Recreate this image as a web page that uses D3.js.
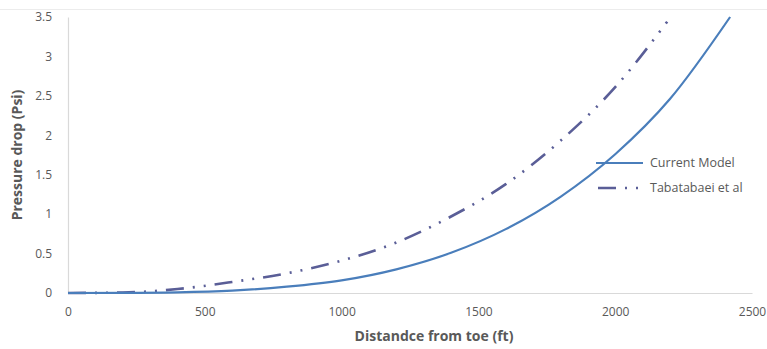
<!DOCTYPE html>
<html>
<head>
  <meta charset=utf-8 />
  <title>Pressure drop vs distance from toe</title>
  <style>
    body { margin:0; background:#fff; }
    text { font-family:"Open Sans", "Liberation Sans", sans-serif; fill:#595959; }
    .tick text { font-size:12px; }
    .axis-title { font-size:14px; font-weight:bold; }
    .legend text { font-size:12.5px; }
  </style>
</head>
<body>
  <div id="container"></div>
  <script src="https://d3js.org/d3.v7.min.js"></script>
  <script>

// values (ft, psi)
var currentDist = [0, 200, 400, 600, 800, 1000, 1200, 1400, 1600, 1800, 2000, 2200, 2420];
var currentDrop = [0, 0.001, 0.008, 0.03, 0.08, 0.16, 0.30, 0.51, 0.81, 1.22, 1.76, 2.46, 3.5];

var tabDist = [0, 200, 400, 600, 800, 1000, 1200, 1400, 1600, 1800, 2000, 2190];
var tabDrop = [0, 0.006, 0.05, 0.14, 0.25, 0.41, 0.64, 0.97, 1.38, 1.93, 2.61, 3.44];

var xTicks = [0, 500, 1000, 1500, 2000, 2500];
var yTicks = [0, 0.5, 1, 1.5, 2, 2.5, 3, 3.5];

var seriesNames = ["Current Model", "Tabatabaei et al"];

var w = 767, h = 349;
var svg = d3.select("#container").append("svg")
  .attr("width", w)
  .attr("height", h);

var x = d3.scaleLinear().domain([0, 2500]).range([68, 752]);
var y = d3.scaleLinear().domain([0, 3.5]).range([293, 17]);

// faint frame line at top
svg.append("line")
  .attr("x1", 0).attr("x2", w).attr("y1", 9.5).attr("y2", 9.5)
  .attr("stroke", "#ececec");

// axes
var xAxis = svg.append("g")
  .attr("transform", "translate(0," + y(0) + ")")
  .call(d3.axisBottom(x).tickValues(xTicks).tickSize(0).tickPadding(14).tickFormat(d3.format("d")));
xAxis.select(".domain").attr("stroke", "#d9d9d9").attr("stroke-width", 1.2);

var yAxis = svg.append("g")
  .attr("transform", "translate(" + x(0) + ",0)")
  .call(d3.axisLeft(y).tickValues(yTicks).tickSize(0).tickPadding(16).tickFormat(function(d){ return d; }));
yAxis.select(".domain").attr("stroke", "#d9d9d9").attr("stroke-width", 1.2);

svg.append("text")
  .attr("class", "axis-title")
  .attr("x", 434).attr("y", 341)
  .attr("text-anchor", "middle")
  .text("Distandce from toe (ft)");

svg.append("text")
  .attr("class", "axis-title")
  .attr("transform", "translate(22,155) rotate(-90)")
  .attr("text-anchor", "middle")
  .text("Pressure drop (Psi)");

var line = d3.line()
  .x(function(d){ return x(d[0]); })
  .y(function(d){ return y(d[1]); })
  .curve(d3.curveMonotoneX);

var tabData = d3.zip(tabDist, tabDrop);
var curData = d3.zip(currentDist, currentDrop);

svg.append("path")
  .datum(tabData)
  .attr("d", line)
  .attr("fill", "none")
  .attr("stroke", "#5a5e97")
  .attr("stroke-width", 2.6)
  .attr("stroke-dasharray", "18,9,2,9,2,9");

svg.append("path")
  .datum(curData)
  .attr("d", line)
  .attr("fill", "none")
  .attr("stroke", "#4a7ebb")
  .attr("stroke-width", 2.2);

// legend
var legend = svg.append("g").attr("class", "legend");
legend.append("line")
  .attr("x1", 596).attr("x2", 643).attr("y1", 163).attr("y2", 163)
  .attr("stroke", "#4a7ebb").attr("stroke-width", 2.2);
legend.append("line")
  .attr("x1", 598).attr("x2", 643).attr("y1", 188).attr("y2", 188)
  .attr("stroke", "#5a5e97").attr("stroke-width", 2.6)
  .attr("stroke-dasharray", "18,9,2,9,2,9");
legend.selectAll("text.lbl")
  .data(seriesNames)
  .enter().append("text")
  .attr("x", 650)
  .attr("y", function(d, i){ return 167 + i * 25; })
  .text(function(d){ return d; });

  </script>
</body>
</html>
